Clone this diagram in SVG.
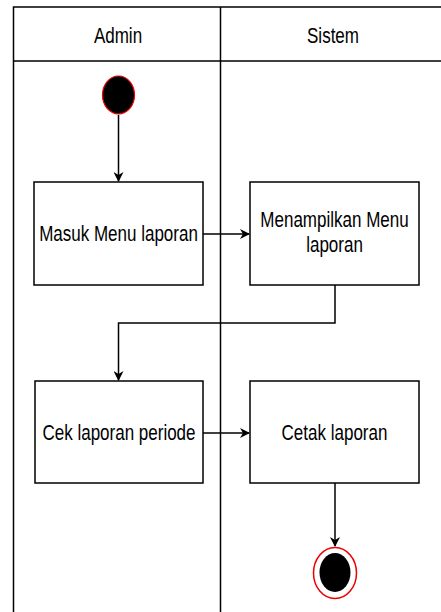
<svg xmlns="http://www.w3.org/2000/svg" width="441" height="612" viewBox="0 0 441 612">
<style>
.lane{fill:none;stroke:#000;stroke-width:1.5}
.box{fill:#fff;stroke:#000;stroke-width:1.5}
.edge{fill:none;stroke:#000;stroke-width:1.5}
.t{font-family:"Liberation Sans",Arial,sans-serif;font-size:17px;fill:#000;text-anchor:middle}
</style>
<defs>
<marker id="arr" viewBox="0 0 10 10" refX="9" refY="5" markerWidth="10" markerHeight="10" markerUnits="userSpaceOnUse" orient="auto">
<path d="M0,0 L10,5 L0,10 L3,5 Z" fill="#000"/>
</marker>
</defs>
<g id="lanes">
<rect class="lane" x="13.5" y="7" width="440" height="620"/>
<line class="lane" x1="13.5" y1="61" x2="441" y2="61"/>
<line class="lane" x1="220.5" y1="7" x2="220.5" y2="612"/>
<text class="t" transform="translate(118,43) scale(1,1.25)">Admin</text>
<text class="t" transform="translate(333,43) scale(1,1.25)">Sistem</text>
</g>
<g id="connectors">
<line class="edge" x1="118.5" y1="115" x2="118.5" y2="181" marker-end="url(#arr)"/>
<line class="edge" x1="203" y1="234" x2="249" y2="234" marker-end="url(#arr)"/>
<polyline class="edge" points="335,285 335,323 118.5,323 118.5,380" marker-end="url(#arr)"/>
<line class="edge" x1="203" y1="433" x2="249" y2="433" marker-end="url(#arr)"/>
<line class="edge" x1="335" y1="483" x2="335" y2="546" marker-end="url(#arr)"/>
</g>
<g id="start">
<ellipse cx="118.5" cy="95" rx="16" ry="19" fill="#000" stroke="#e00" stroke-width="1.2"/>
</g>
<g id="masuk-menu">
<rect class="box" x="34" y="182" width="169" height="103"/>
<text class="t" transform="translate(118.5,241) scale(1,1.25)">Masuk Menu laporan</text>
</g>
<g id="menampilkan-menu">
<rect class="box" x="250" y="182" width="169" height="103"/>
<text class="t" transform="translate(334.5,227) scale(1,1.25)">Menampilkan Menu</text>
<text class="t" transform="translate(334.5,252) scale(1,1.25)">laporan</text>
</g>
<g id="cek-laporan">
<rect class="box" x="35" y="381" width="168" height="102"/>
<text class="t" transform="translate(119,440) scale(1,1.25)">Cek laporan periode</text>
</g>
<g id="cetak-laporan">
<rect class="box" x="250" y="381" width="169" height="102"/>
<text class="t" transform="translate(334.5,440) scale(1,1.25)">Cetak laporan</text>
</g>
<g id="end">
<ellipse cx="335" cy="573" rx="21.5" ry="25.5" fill="#fff" stroke="#e00" stroke-width="1.5"/>
<ellipse cx="335" cy="572.5" rx="15.5" ry="19.5" fill="#000"/>
</g>
</svg>
